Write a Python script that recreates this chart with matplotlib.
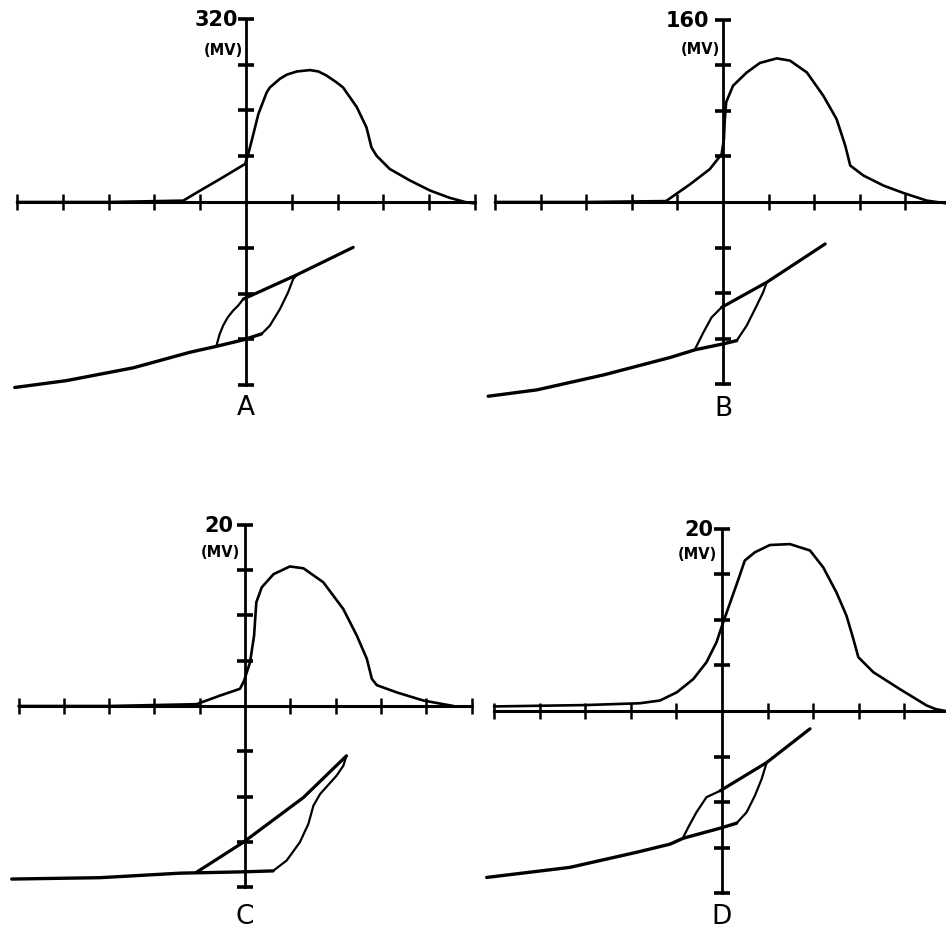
import matplotlib
matplotlib.use("Agg")
import matplotlib.pyplot as plt

# ---------------- data (units: tick divisions) ----------------
panel_letters = ["A", "B", "C", "D"]
scale_labels = ["320", "160", "20", "20"]
unit_label = "(MV)"
x_ticks = [-5, -4, -3, -2, -1, 1, 2, 3, 4, 5]
y_ticks = [-4, -3, -2, -1, 1, 2, 3, 4]

# upper traces (pulses)
A_pulse_x = [-5.0, -3.0, -1.37, -1.0, -0.57, -0.02, 0.05, 0.16, 0.27, 0.45, 0.52, 0.74, 0.89, 1.11, 1.40, 1.58, 1.76, 1.98, 2.12, 2.42, 2.63, 2.74, 2.85, 3.14, 3.58, 4.02, 4.45, 4.82, 5.0]
A_pulse_y = [0.0, 0.0, 0.03, 0.25, 0.50, 0.83, 1.05, 1.48, 1.92, 2.39, 2.50, 2.69, 2.78, 2.85, 2.88, 2.85, 2.76, 2.61, 2.50, 2.07, 1.63, 1.19, 1.01, 0.72, 0.47, 0.25, 0.09, -0.01, -0.03]
B_pulse_x = [-5.0, -3.0, -1.25, -0.72, -0.29, -0.03, 0.02, 0.04, 0.07, 0.22, 0.52, 0.81, 1.18, 1.47, 1.84, 2.20, 2.49, 2.68, 2.79, 3.08, 3.52, 3.95, 4.47, 4.9]
B_pulse_y = [0.0, 0.0, 0.02, 0.39, 0.72, 1.05, 1.38, 1.82, 2.19, 2.55, 2.84, 3.05, 3.15, 3.10, 2.84, 2.33, 1.82, 1.24, 0.80, 0.58, 0.36, 0.20, 0.03, -0.03]
C_pulse_x = [-5.0, -3.0, -1.07, -0.55, -0.11, -0.02, 0.11, 0.20, 0.25, 0.37, 0.63, 0.99, 1.29, 1.73, 2.17, 2.47, 2.69, 2.80, 2.91, 3.35, 3.94, 4.60]
C_pulse_y = [0.0, 0.0, 0.04, 0.23, 0.38, 0.56, 0.96, 1.55, 2.29, 2.62, 2.91, 3.08, 3.04, 2.73, 2.14, 1.55, 1.04, 0.60, 0.46, 0.30, 0.12, 0.0]
D_pulse_x = [-5.0, -3.0, -1.80, -1.36, -0.99, -0.63, -0.34, -0.12, 0.0, 0.18, 0.36, 0.50, 0.72, 1.05, 1.49, 1.93, 2.22, 2.51, 2.73, 2.88, 2.99, 3.32, 3.90, 4.49, 4.69, 4.9]
D_pulse_y = [0.10, 0.13, 0.17, 0.23, 0.41, 0.70, 1.07, 1.51, 1.87, 2.38, 2.89, 3.30, 3.48, 3.64, 3.66, 3.52, 3.15, 2.60, 2.09, 1.58, 1.18, 0.85, 0.48, 0.12, 0.04, 0.0]

# lower traces (loops): base line, rising branch, straight line, falling branch
A_base_x = [-5.05, -3.92, -3.19, -2.46, -1.22, -0.64, -0.06, 0.34]
A_base_y = [-4.05, -3.9, -3.76, -3.62, -3.28, -3.15, -3.01, -2.88]
A_rise_x = [0.34, 0.52, 0.74, 0.92, 1.03, 1.11]
A_rise_y = [-2.88, -2.70, -2.34, -1.97, -1.68, -1.59]
A_line_x = [2.34, 1.11, -0.06]
A_line_y = [-0.99, -1.59, -2.12]
A_fall_x = [-0.06, -0.17, -0.28, -0.40, -0.50, -0.58, -0.64]
A_fall_y = [-2.12, -2.26, -2.37, -2.52, -2.70, -2.90, -3.12]

B_base_x = [-5.15, -4.08, -2.61, -1.16, -0.61, 0.01, 0.30]
B_base_y = [-4.26, -4.12, -3.79, -3.41, -3.24, -3.11, -3.04]
B_rise_x = [0.30, 0.52, 0.74, 0.88, 0.96]
B_rise_y = [-3.04, -2.71, -2.27, -1.98, -1.76]
B_line_x = [2.24, 0.96, -0.03]
B_line_y = [-0.92, -1.76, -2.31]
B_fall_x = [-0.03, -0.25, -0.43, -0.61]
B_fall_y = [-2.31, -2.53, -2.86, -3.22]

C_base_x = [-5.15, -3.2, -1.43, 0.0, 0.62]
C_base_y = [-3.82, -3.79, -3.69, -3.66, -3.64]
C_rise_x = [0.62, 0.92, 1.21, 1.40, 1.51, 1.66, 2.02, 2.17, 2.24]
C_rise_y = [-3.64, -3.41, -3.01, -2.60, -2.20, -1.94, -1.54, -1.32, -1.10]
C_line_x = [2.24, 1.29, -0.04, -1.07]
C_line_y = [-1.10, -2.02, -3.01, -3.67]
C_fall_x = []
C_fall_y = []

D_base_x = [-5.16, -3.34, -1.88, -1.14, -0.85, -0.04, 0.32]
D_base_y = [-3.65, -3.43, -3.1, -2.92, -2.79, -2.57, -2.46]
D_rise_x = [0.32, 0.54, 0.72, 0.87, 0.98]
D_rise_y = [-2.46, -2.22, -1.86, -1.49, -1.13]
D_line_x = [1.93, 0.98, -0.04]
D_line_y = [-0.39, -1.13, -1.75]
D_fall_x = [-0.04, -0.34, -0.56, -0.74, -0.85]
D_fall_y = [-1.75, -1.89, -2.22, -2.55, -2.77]

panels = [
    dict(p=(A_pulse_x, A_pulse_y), base=(A_base_x, A_base_y), rise=(A_rise_x, A_rise_y),
         line=(A_line_x, A_line_y), fall=(A_fall_x, A_fall_y)),
    dict(p=(B_pulse_x, B_pulse_y), base=(B_base_x, B_base_y), rise=(B_rise_x, B_rise_y),
         line=(B_line_x, B_line_y), fall=(B_fall_x, B_fall_y)),
    dict(p=(C_pulse_x, C_pulse_y), base=(C_base_x, C_base_y), rise=(C_rise_x, C_rise_y),
         line=(C_line_x, C_line_y), fall=(C_fall_x, C_fall_y)),
    dict(p=(D_pulse_x, D_pulse_y), base=(D_base_x, D_base_y), rise=(D_rise_x, D_rise_y),
         line=(D_line_x, D_line_y), fall=(D_fall_x, D_fall_y)),
]

# ---------------- layout (pixel origin of each panel, unit in px) ----------------
W, H = 946, 929
origins = [(246, 203, 45.8), (723, 203, 45.6), (245, 707, 45.3), (722, 712, 45.6)]
label_x = [-0.17, -0.3, -0.26, -0.2]
mv_x = [-0.07, -0.07, -0.1, -0.1]
mv_y = [3.34, 3.36, 3.42, 3.46]
letter_y = [-4.48, -4.52, -4.64, -4.5]

XL, XR, YB, YT = -5.4, 5.4, -4.9, 4.6

fig = plt.figure(figsize=(W / 100, H / 100), dpi=100)
fig.patch.set_facecolor("white")

kw = dict(color="black", solid_joinstyle="round", solid_capstyle="round")

for i, (ox, oy, u) in enumerate(origins):
    left = (ox + XL * u) / W
    bottom = (H - (oy - YB * u)) / H
    ax = fig.add_axes([left, bottom, (XR - XL) * u / W, (YT - YB) * u / H])
    ax.set_xlim(XL, XR)
    ax.set_ylim(YB, YT)
    ax.patch.set_alpha(0)
    for s in ["top", "right"]:
        ax.spines[s].set_visible(False)
    ax.spines["left"].set_position(("data", 0))
    ax.spines["bottom"].set_position(("data", 0))
    ax.spines["left"].set_bounds(-4, 4)
    ax.spines["bottom"].set_bounds(-5, 5)
    ax.spines["left"].set_linewidth(2.0)
    ax.spines["bottom"].set_linewidth(2.2)
    ax.set_xticks(x_ticks)
    ax.set_yticks(y_ticks)
    ax.set_xticklabels([])
    ax.set_yticklabels([])
    ax.tick_params(axis="x", direction="inout", length=11, width=1.8, color="black")
    ax.tick_params(axis="y", direction="inout", length=11, width=2.6, color="black")

    d = panels[i]
    ax.plot(*d["p"], lw=1.9, **kw)
    ax.plot(*d["base"], lw=2.4, **kw)
    ax.plot(*d["rise"], lw=1.6, **kw)
    ax.plot(*d["line"], lw=2.3, **kw)
    ax.plot(*d["fall"], lw=1.6, **kw)

    ax.text(label_x[i], 4.0, scale_labels[i], ha="right", va="center",
            fontsize=15, fontweight="bold")
    ax.text(mv_x[i], mv_y[i], unit_label, ha="right", va="center",
            fontsize=10.5, fontweight="bold")
    ax.text(0.0, letter_y[i], panel_letters[i], ha="center", va="center",
            fontsize=19)

fig.savefig("out.png", dpi=100, facecolor="white")
